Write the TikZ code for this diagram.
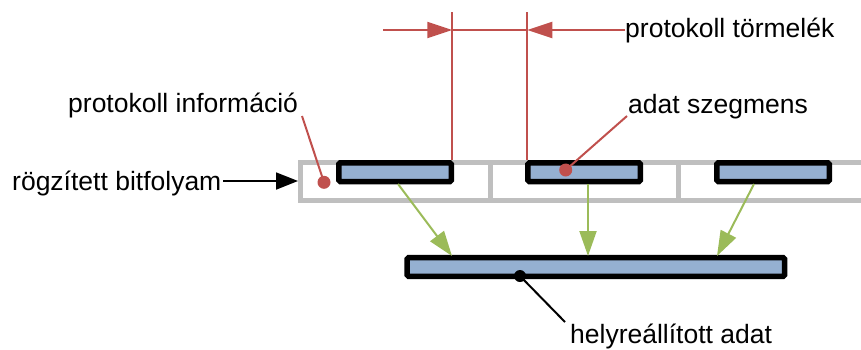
\documentclass[tikz,border=0pt]{standalone}
\usepackage{fontspec}
\setmainfont{Liberation Sans}
\usetikzlibrary{arrows.meta}
\definecolor{pred}{RGB}{192,80,77}
\definecolor{pgreen}{RGB}{155,187,89}
\definecolor{pblue}{RGB}{149,176,209}
\definecolor{pgray}{RGB}{191,191,191}
\tikzset{
  seg/.style={draw=black, line width=5.5pt, fill=pblue, rounded corners=1.5pt,
    inner sep=0pt, minimum height=18.8pt},
  lbl/.style={font=\fontsize{26.5}{30}\selectfont, inner sep=0pt, anchor=base west},
  redln/.style={draw=pred, line width=2pt},
  redtip/.style={-{Triangle[length=25pt,width=16pt]}},
  grnarr/.style={draw=pgreen, line width=2pt, -{Triangle[length=25pt,width=17pt]}},
  dotnode/.style={circle, inner sep=0pt, minimum size=13pt},
  frame/.style={draw=pgray, line width=5pt},
}
\begin{document}
\begin{tikzpicture}[x=1pt,y=-1pt]
\useasboundingbox (0,0) rectangle (861,349);

% recorded bit stream frame
\draw[frame] (866,162.5) -- (300.8,162.5) -- (300.8,200.8) -- (866,200.8);
\draw[frame] (490,162.5) -- (490,200.8);
\draw[frame] (678,162.5) -- (678,200.8);

% data segments
\node[seg, minimum width=112.5pt] (s1) at (395,172.2) {};
\node[seg, minimum width=112.5pt] (s2) at (584.2,172.2) {};
\node[seg, minimum width=112.5pt] (s3) at (773,172.2) {};
\node[seg, minimum width=377.5pt] (big) at (595.8,267) {};

% labels
\node[lbl] (tmel) at (625,37) {protokoll törmelék};
\node[lbl] (tseg) at (628,113) {adat szegmens};
\node[lbl] (tinf) at (68,112) {protokoll információ};
\node[lbl] (trog) at (12,190) {rögzített bitfolyam};
\node[lbl] (thely) at (570,343) {helyreállított adat};

% protocol residue dimension
\coordinate (v1) at (452.3,12);
\coordinate (v2) at (527.3,12);
\coordinate (la) at (383,30);
\draw[redln] (v1) -- (v1 |- s1.north);
\draw[redln] (v2) -- (v2 |- s2.north);
\draw[redln, redtip] (la) -- (la -| v1);
\draw[redln] (la -| v1) -- (la -| v2);
\draw[redln, redtip] (tmel.west |- la) -- (la -| v2);

% callouts
\node[dotnode, fill=pred] (dseg) at (565.7,170) {};
\node[dotnode, fill=pred] (dinf) at (324,182.3) {};
\node[dotnode, fill=black, minimum size=12pt] (dbig) at (520,276) {};
\coordinate (cseg) at (627,116);
\coordinate (cinf) at (302,116);
\coordinate (chely) at (565,322);
\draw[redln] (cseg) -- (dseg.center);
\draw[redln] (cinf) -- (dinf.center);
\draw[black, line width=2pt] (dbig.center) -- (chely);

% input arrow
\draw[black, line width=1.8pt, -{Triangle[length=22pt,width=17pt]}] (223,181) -- (298,181);

% reassembly arrows
\draw[grnarr] (398,184) -- (452,256);
\draw[grnarr] (588,184) -- (588,256);
\draw[grnarr] (754,184) -- (717,256);
\end{tikzpicture}
\end{document}
